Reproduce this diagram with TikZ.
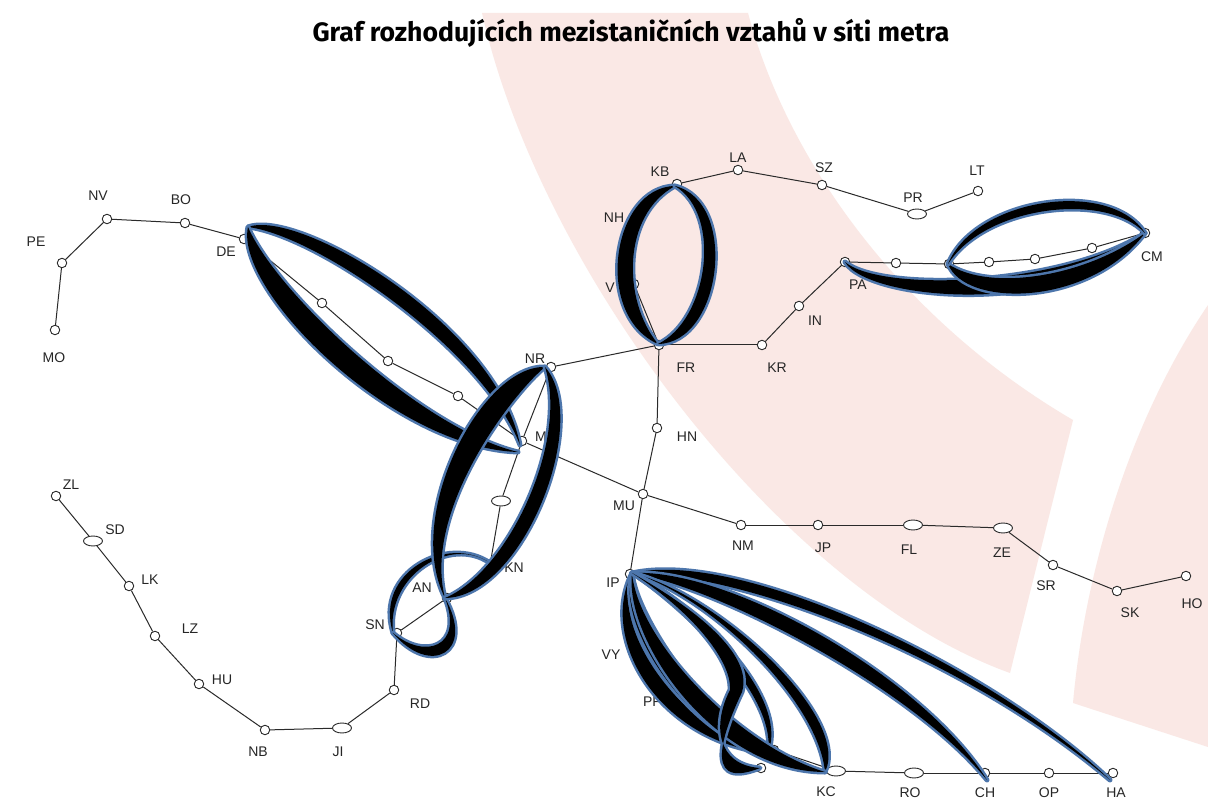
\documentclass[tikz,border=0pt]{standalone}
\usepackage{fontspec}
\setmainfont{Liberation Sans}
\newfontfamily\titlefont{Fira Sans}
\usetikzlibrary{shapes.geometric}
\definecolor{pinkband}{HTML}{FAE8E5}
\definecolor{flowblue}{HTML}{4D76AC}
\definecolor{linegray}{HTML}{2A2A2A}
\tikzset{
  stn/.style={circle,draw=linegray,fill=white,line width=.9pt,minimum size=9.5pt,inner sep=0pt},
  bigstn/.style={ellipse,draw=linegray,fill=white,line width=.9pt,minimum width=19pt,minimum height=10pt,inner sep=0pt},
  lbl/.style={font=\fontsize{14}{14}\selectfont,text=black!85,inner sep=0pt},
  link/.style={draw=linegray,line width=1pt},
  flow/.style={preaction={draw=flowblue,line width=5pt,line join=round},fill=black,line join=round},
  band/.style={fill=pinkband,draw=none}
}
% crescent: tip a, outer curve to tip b, inner curve back to a; blue rim under a black core
\newcommand\crescent[6]{\path[flow] (#1) .. controls (#2) and (#3) .. (#4) .. controls (#5) and (#6) .. (#1) -- cycle;}
\begin{document}
\begin{tikzpicture}[x=1pt,y=-1pt]
\useasboundingbox (0,0) rectangle (1208,802);
\fill[white] (0,0) rectangle (1208,802);
% bands
\fill[band] (482,13) .. controls (540,270) and (780,590) .. (1010,673) -- (1073,420) .. controls (910,325) and (790,170) .. (748,13) -- cycle;
\fill[band] (1208,305) .. controls (1130,420) and (1085,570) .. (1073,703) -- (1208,747) -- cycle;
% title
\node[font=\titlefont\bfseries\fontsize{26.6}{27}\selectfont,inner sep=0pt] (title) at (631,33) {Graf rozhodujících mezistaničních vztahů v síti metra};
% stations
\node[stn] (mo) at (55,330) {}; \node[stn] (pe) at (62,263) {}; \node[stn] (nv) at (107,219) {};
\node[stn] (bo) at (185,223) {}; \node[stn] (de) at (244,239) {};
\node[stn] (a1) at (322,303) {}; \node[stn] (a2) at (388,361) {}; \node[stn] (a3) at (458,396) {};
\node[stn] (me) at (522,441) {}; \node[stn] (nr) at (551,367) {}; \node[stn] (fr) at (659,345) {};
\node[stn] (kr) at (762,345) {}; \node[stn] (in) at (799,306) {}; \node[stn] (pa) at (845,262) {};
\node[stn] (b1) at (896,263) {}; \node[stn] (b2) at (949,264) {}; \node[stn] (b3) at (989,262) {};
\node[stn] (b4) at (1035,259) {}; \node[stn] (b5) at (1092,248) {}; \node[stn] (cm) at (1145,233) {};
\node[stn] (kb) at (677,184) {}; \node[stn] (la) at (738,170) {}; \node[stn] (sz) at (822,185) {};
\node[bigstn] (pr) at (917,214) {}; \node[stn] (lt) at (978,191) {};
\node[stn] (vi) at (634,284) {}; \coordinate (nh) at (634,215);
\node[stn] (hn) at (657,428) {}; \node[stn] (mu) at (643,494) {}; \node[stn] (ip) at (630,574) {};
\node[stn] (nm) at (741,525) {}; \node[stn] (jp) at (818,525) {}; \node[bigstn] (fl) at (913,525) {};
\node[bigstn] (ze) at (1003,528) {}; \node[stn] (sr) at (1053,565) {}; \node[stn] (sk) at (1117,591) {};
\node[stn] (ho) at (1186,576) {};
\node[bigstn] (xn) at (501,501) {}; \coordinate (kn) at (490,565); \node[stn] (an) at (447,598) {};
\node[stn] (sn) at (397,633) {}; \node[stn] (rd) at (394,690) {}; \node[bigstn] (ji) at (342,728) {};
\node[stn] (nb) at (265,730) {}; \node[stn] (hu) at (199,684) {}; \node[stn] (lz) at (155,636) {};
\node[stn] (lk) at (129,586) {}; \node[bigstn] (sd) at (93,541) {}; \node[stn] (zl) at (56,496) {};
\node[stn] (e1) at (774,750) {}; \node[stn] (e2) at (761,768) {}; \node[bigstn] (kc) at (836,771) {};
\node[bigstn] (ro) at (914,773) {}; \node[stn] (ch) at (985,773) {}; \node[stn] (op) at (1049,773) {};
\node[stn] (ha) at (1113,773) {};
% links
\draw[link] (mo)--(pe); \draw[link] (pe)--(nv); \draw[link] (nv)--(bo); \draw[link] (bo)--(de);
\draw[link] (de)--(a1); \draw[link] (a1)--(a2); \draw[link] (a2)--(a3); \draw[link] (a3)--(me);
\draw[link] (nr)--(me); \draw[link] (nr)--(fr); \draw[link] (fr)--(kr); \draw[link] (kr)--(in); \draw[link] (in)--(pa);
\draw[link] (pa)--(b1); \draw[link] (b1)--(b2); \draw[link] (b2)--(b3); \draw[link] (b3)--(b4); \draw[link] (b4)--(b5); \draw[link] (b5)--(cm);
\draw[link] (fr)--(vi); \draw[link] (vi)--(nh); \draw[link] (nh)--(kb); \draw[link] (kb)--(la); \draw[link] (la)--(sz); \draw[link] (sz)--(pr); \draw[link] (pr)--(lt);
\draw[link] (fr)--(hn); \draw[link] (hn)--(mu); \draw[link] (mu)--(ip); \draw[link] (me)--(mu);
\draw[link] (mu)--(nm); \draw[link] (nm)--(jp); \draw[link] (jp)--(fl); \draw[link] (fl)--(ze); \draw[link] (ze)--(sr); \draw[link] (sr)--(sk); \draw[link] (sk)--(ho);
\draw[link] (me)--(xn); \draw[link] (xn)--(kn); \draw[link] (kn)--(an); \draw[link] (an)--(sn); \draw[link] (sn)--(rd); \draw[link] (rd)--(ji); \draw[link] (ji)--(nb);
\draw[link] (nb)--(hu); \draw[link] (hu)--(lz); \draw[link] (lz)--(lk); \draw[link] (lk)--(sd); \draw[link] (sd)--(zl);
\draw[link] (e1)--(kc); \draw[link] (kc)--(ro); \draw[link] (ro)--(ch); \draw[link] (ch)--(op); \draw[link] (op)--(ha);
% labels
\foreach \nm/\t/\x/\y in {lmo/MO/54/358,lpe/PE/36/242,lnv/NV/98/196,lbo/BO/181/200,lde/DE/226/252,
  lkb/KB/660/172,lla/LA/738/158,lsz/SZ/824/168,lpr/PR/913/198,llt/LT/977/171,lnh/NH/614/218,lvi/V/610/288,
  lfr/FR/686/368,lkr/KR/777/368,lin/IN/815/321,lpa/PA/858/285,lcm/CM/1152/257,lnr/NR/535/359,
  lhn/HN/687/437,lmu/MU/624/506,lnm/NM/743/546,ljp/JP/823/548,lfl/FL/909/550,lze/ZE/1002/553,
  lsr/SR/1046/586,lsk/SK/1130/613,lho/HO/1192/604,lip/IP/613/583,lvy/VY/611/655,lpf/PF/652/702,
  lkc/KC/826/792,lro/RO/910/793,lch/CH/985/793,lop/OP/1049/793,lha/HA/1116/793,
  lme/M/541/437,lkn/KN/514/568,lan/AN/422/588,lsn/SN/375/625,lrd/RD/420/704,lnb/NB/258/752,lji/JI/338/752,
  lhu/HU/222/680,llz/LZ/190/629,llk/LK/150/580,lsd/SD/115/530,lzl/ZL/71/485}
  {\node[lbl] (\nm) at (\x,\y) {\t};}
% tips of the flow rings
\coordinate (tde) at (248,227); \coordinate (tme) at (520,445); \coordinate (tmf) at (518,452);
\coordinate (tnr) at (545,367); \coordinate (tan) at (445,598); \coordinate (tsn) at (393,633);
\coordinate (tkn) at (490,563); \coordinate (tkb) at (675,186); \coordinate (tfr) at (658,344);
\coordinate (tpa) at (845,262); \coordinate (tcm) at (1145,233); \coordinate (tb2) at (948,264);
\coordinate (tip) at (632,573); \coordinate (tha) at (1110,780); \coordinate (tch) at (987,780);
\coordinate (tkc) at (825,772); \coordinate (te1) at (768,753); \coordinate (te2) at (760,768);
\coordinate (tbd) at (742,692); \coordinate (tbe) at (730,690);
% DE - M
\crescent{tde}{300,208}{498,327}{tme}{484,351}{319,236}
\crescent{tde}{234,290}{393,448}{tmf}{422,429}{277,294}
% loops at SN
\crescent{tsn}{374,572}{448,534}{tkn}{450,535}{386,576}
\crescent{tsn}{430,677}{476,653}{tan}{464,647}{425,660}
% NR - AN
\crescent{tnr}{482,365}{403,515}{tan}{422,510}{514,392}
\crescent{tnr}{592,420}{523,597}{tan}{508,572}{569,442}
% KB - FR
\crescent{tkb}{612,187}{593,315}{tfr}{622,300}{622,215}
\crescent{tkb}{739,202}{722,343}{tfr}{708,320}{723,215}
% PA - CM
\crescent{tpa}{870,303}{1080,317}{tcm}{1060,287}{880,292}
\crescent{tb2}{965,308}{1090,307}{tcm}{1085,277}{990,292}
\crescent{tb2}{975,198}{1110,178}{tcm}{1105,191}{985,206}
% IP fan
\crescent{tip}{745,548}{998,672}{tha}{970,661}{750,573}
\crescent{tip}{730,568}{923,677}{tch}{912,688}{720,588}
\crescent{tip}{715,593}{852,716}{tkc}{818,698}{705,593}
\crescent{tip}{680,593}{792,691}{te1}{778,688}{665,593}
\crescent{tip}{598,640}{660,742}{te1}{682,732}{610,630}
\crescent{tip}{615,625}{690,738}{te1}{712,725}{637,620}
\crescent{tip}{624,640}{715,772}{tkc}{737,745}{638,640}
\path[flow] (tip) .. controls (680,600) and (755,650) .. (tbd) .. controls (728,722) and (697,793) .. (te2) .. controls (717,765) and (712,725) .. (tbe) .. controls (732,660) and (690,610) .. (tip) -- cycle;
\end{tikzpicture}
\end{document}
